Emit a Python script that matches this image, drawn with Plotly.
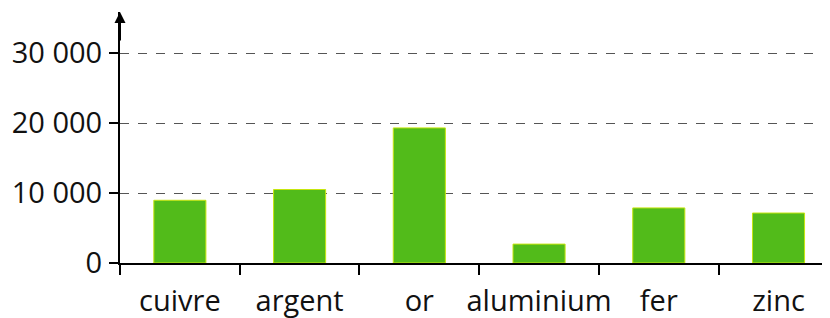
import plotly.graph_objects as go

categories = ["cuivre", "argent", "or", "aluminium", "fer", "zinc"]
densities = [8960, 10500, 19300, 2700, 7870, 7140]
y_tick_vals = [0, 10000, 20000, 30000]
y_tick_text = ["0", "10 000", "20 000", "30 000"]

fig = go.Figure(
    go.Bar(
        x=categories,
        y=densities,
        marker=dict(color="#52bb1a", line=dict(color="#c6e60f", width=1)),
        width=0.435,
    )
)

# page body has an 8px default margin, so the figure is 8px smaller
fig.update_layout(
    width=822,
    height=310,
    margin=dict(l=112, r=0, t=4, b=55),
    plot_bgcolor="white",
    paper_bgcolor="white",
    showlegend=False,
    font=dict(family="Open Sans", color="#111111"),
)

fig.update_xaxes(
    type="category",
    range=[-0.5, 5.43],
    automargin=False,
    showline=True,
    linecolor="black",
    linewidth=2,
    ticks="outside",
    tickson="boundaries",
    ticklen=10,
    tickwidth=1.5,
    tickcolor="black",
    showgrid=False,
    tickangle=0,
    tickfont=dict(size=29, family="Open Sans", color="#111111"),
    ticklabelstandoff=11,
)

fig.update_yaxes(
    range=[0, 35857],
    automargin=False,
    tickvals=y_tick_vals,
    ticktext=y_tick_text,
    showline=True,
    linecolor="black",
    linewidth=2,
    ticks="outside",
    ticklen=9,
    tickwidth=1.5,
    tickcolor="black",
    showgrid=True,
    gridcolor="#555555",
    gridwidth=1,
    griddash="dash",
    zeroline=False,
    tickfont=dict(size=29, family="Open Sans", color="#111111"),
    ticklabelstandoff=1,
)

fig.add_annotation(
    x=-0.5, xref="x",
    y=1, yref="paper",
    ax=0, ay=30,
    showarrow=True,
    arrowhead=2,
    arrowsize=1.1,
    arrowwidth=2,
    arrowcolor="black",
    text="",
)

fig.write_html("out.html")
